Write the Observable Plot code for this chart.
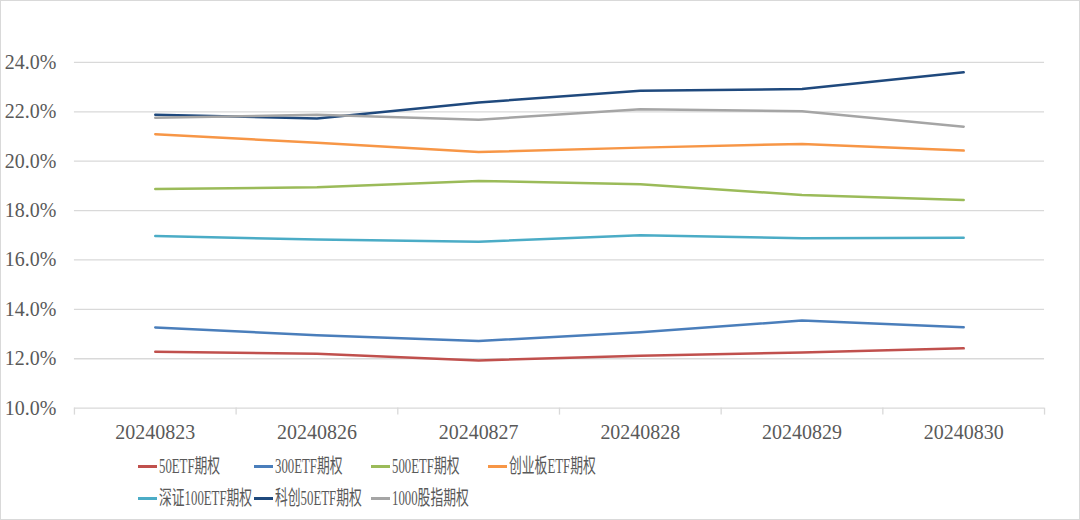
<!DOCTYPE html>
<html><head><meta charset="utf-8">
<script src="https://cdn.jsdelivr.net/npm/d3@7"></script>
<script src="https://cdn.jsdelivr.net/npm/@observablehq/plot@0.6"></script>
<style>
body{margin:0;background:#fff}
#wrap{position:relative;width:1080px;height:520px;box-sizing:border-box;border:1px solid #d9d9d9;overflow:hidden;font-family:"Liberation Serif","Noto Sans CJK SC",serif;background:#fff}
#chart{position:absolute;left:-1px;top:-1px}
.item{position:absolute;height:22px;display:flex;align-items:center;white-space:nowrap}
.sw{width:19px;height:3px;margin-right:2px;flex:none}
.tx{font-size:20px;color:#595959;display:inline-block;transform:scaleX(0.64);transform-origin:left center;line-height:22px}
</style></head><body>
<div id="wrap"><div id="chart"></div><div id="legend"></div></div>
<script>
const dates = ["20240823","20240826","20240827","20240828","20240829","20240830"];
const seriesNames = ["50ETF期权","300ETF期权","500ETF期权","创业板ETF期权","深证100ETF期权","科创50ETF期权","1000股指期权"];
const colors = ["#c0504d","#4a7ebb","#9bbb59","#f79646","#4bacc6","#1f497d","#a5a5a5"];
const v50 = [12.28,12.20,11.93,12.12,12.25,12.42];
const v300 = [13.27,12.95,12.72,13.07,13.55,13.28];
const v500 = [18.87,18.95,19.20,19.07,18.63,18.43];
const vCyb = [21.09,20.75,20.37,20.55,20.70,20.43];
const vSz100 = [16.97,16.83,16.74,17.00,16.88,16.90];
const vKc50 = [21.88,21.73,22.38,22.85,22.92,23.60];
const v1000 = [21.76,21.88,21.68,22.10,22.02,21.40];
const yTicks = [10,12,14,16,18,20,22,24];

const allValues = [v50,v300,v500,vCyb,vSz100,vKc50,v1000];
const rows = [];
allValues.forEach((vals,si)=>vals.forEach((v,i)=>rows.push({series:seriesNames[si],i,v})));
const boundaries = d3.range(7).map(k=>k-0.5);

const plot = Plot.plot({
  width:1080, height:452,
  marginLeft:74, marginRight:35, marginTop:62, marginBottom:44,
  style:{fontFamily:'"Liberation Serif","Noto Sans CJK SC",serif', background:"transparent", overflow:"visible"},
  x:{domain:[-0.5,5.5], axis:null},
  y:{domain:[10,24], axis:null},
  color:{domain:seriesNames, range:colors},
  marks:[
    Plot.gridY(yTicks,{stroke:"#d9d9d9", strokeOpacity:1, strokeWidth:1.3}),
    Plot.axisY(yTicks,{tickSize:0, tickPadding:18, tickFormat:d=>d.toFixed(1)+"%", fontSize:20, fill:"#595959", label:null}),
    Plot.axisX(boundaries,{tickSize:7, tickFormat:()=>"", stroke:"#d9d9d9", strokeWidth:1.3, label:null}),
    Plot.axisX(d3.range(6),{tickSize:0, tickPadding:17, tickFormat:i=>dates[i], fontSize:20, fill:"#595959", label:null}),
    Plot.line(rows,{x:"i", y:"v", z:"series", stroke:"series", strokeWidth:2.5})
  ]
});
document.getElementById("chart").appendChild(plot);

const legendPos = [[137,454],[253,454],[370,454],[487,454],[137,486],[253,486],[370,486]];
const leg = document.getElementById("legend");
seriesNames.forEach((n,i)=>{
  const d = document.createElement("div");
  d.className="item";
  d.style.left = legendPos[i][0]+"px";
  d.style.top = legendPos[i][1]+"px";
  d.innerHTML = `<span class="sw" style="background:${colors[i]}"></span><span class="tx">${n}</span>`;
  leg.appendChild(d);
});
</script>
</body></html>
